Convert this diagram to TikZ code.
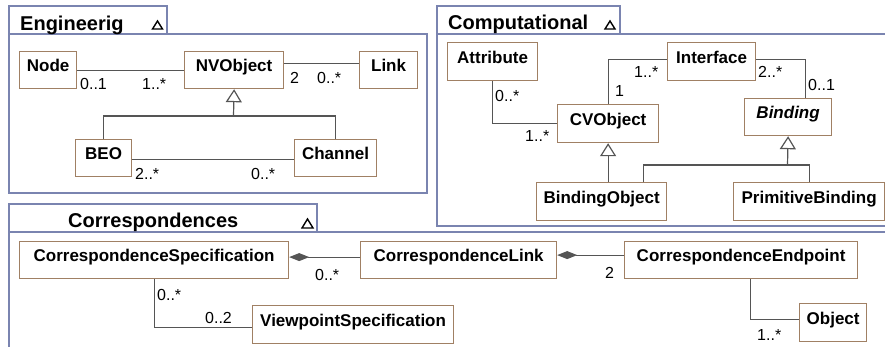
\documentclass[tikz,border=0pt]{standalone}
\usepackage{fontspec}
\setmainfont{Liberation Sans}
\usetikzlibrary{arrows.meta}
\definecolor{boxbrown}{RGB}{160,128,100}
\definecolor{framegray}{RGB}{122,132,176}
\definecolor{linegray}{RGB}{85,85,85}
\tikzset{
  box/.style={draw=boxbrown,line width=1.2pt,fill=white,anchor=north west,
              inner xsep=4pt,text height=12pt,text depth=8.6pt,
              font=\fontsize{17}{20}\selectfont\bfseries},
  boxi/.style={box,font=\fontsize{17}{20}\selectfont\bfseries\itshape},
  mult/.style={anchor=base west,inner sep=0pt,
               font=\fontsize{16}{19}\selectfont},
  tab/.style={anchor=base west,inner sep=0pt,
              font=\fontsize{20}{24}\selectfont\bfseries},
  frame/.style={draw=framegray,line width=1.3pt},
  assoc/.style={draw=linegray,line width=1.2pt},
  gen/.style={assoc,-{Triangle[length=13pt,width=16pt,fill=white]}},
  comp/.style={assoc,-{Diamond[length=20pt,width=8pt]}},
  fold/.style={draw=black,line width=1.4pt,line join=miter},
}

\begin{document}
\begin{tikzpicture}[x=1pt, y=-1pt]
  \useasboundingbox (0,0) rectangle (885,346);
  % package frames
  \draw[frame] (9,6) rectangle (167,34);
  \draw[frame] (9,34) rectangle (427,193);
  \draw[frame] (437,6) rectangle (620,34);
  \draw[frame] (890,34) -- (437,34) -- (437,226) -- (890,226);
  \draw[frame] (9,204) rectangle (317,232);
  \draw[frame] (890,232) -- (9,232) -- (9,350);
  \node[tab] (t-eng) at (20,30) {Engineerig};
  \node[tab] (t-comp) at (448,29) {Computational};
  \node[tab] (t-corr) at (68,227) {Correspondences};
  \draw[fold] (152.5,29) -- (162.5,29) -- (157.5,21) -- cycle;
  \draw[fold] (605,29) -- (615,29) -- (610,21) -- cycle;
  \draw[fold] (302,228) -- (313,228) -- (307.5,219) -- cycle;

  % engineering
  \node[box, minimum width=57pt, minimum height=37pt] (node) at (19,51) {Node};
  \node[box, minimum width=99pt, minimum height=37pt] (nvo) at (184,51) {NVObject};
  \node[box, minimum width=58pt, minimum height=37pt] (link) at (359,51) {Link};
  \node[box, minimum width=56pt, minimum height=37pt] (beo) at (75,139) {BEO};
  \node[box, minimum width=82pt, minimum height=37pt] (chan) at (294,139) {Channel};
  \draw[assoc] (node.east) -- (nvo.west);
  \draw[assoc] ([yshift=7pt]nvo.east) -- ([yshift=7pt]link.west);
  \draw[assoc] ([yshift=-1.5pt]beo.east) -- ([yshift=-1.5pt]chan.west);
  \coordinate (j1) at (233.5,116);
  \draw[assoc] (beo.north) |- (j1);
  \draw[assoc] (chan.north) |- (j1);
  \draw[gen] (j1) -- (nvo.south);
  \node[mult] (m-node) at (80,89) {0..1};
  \node[mult] (m-nvo) at (142,89) {1..*};
  \node[mult] (m-nvo2) at (290,83) {2};
  \node[mult] (m-link) at (317,83) {0..*};
  \node[mult] (m-beo) at (135,179) {2..*};
  \node[mult] (m-chan) at (251,179) {0..*};

  % computational
  \node[box, minimum width=90pt, minimum height=38pt] (attr) at (447,42) {Attribute};
  \node[box, minimum width=88pt, minimum height=38pt] (iface) at (667,42) {Interface};
  \node[box, minimum width=101pt, minimum height=38pt] (cvo) at (557,104) {CVObject};
  \node[boxi, minimum width=87pt, minimum height=37pt] (bind) at (744,98) {Binding};
  \node[box, minimum width=130pt, minimum height=38pt] (bobj) at (536,182) {BindingObject};
  \node[box, minimum width=151pt, minimum height=38pt] (prim) at (733,182) {PrimitiveBinding};
  \draw[assoc] (attr.south) |- (cvo.west);
  \draw[assoc] (cvo.north) |- ([yshift=2pt]iface.west);
  \draw[assoc] ([yshift=2pt]iface.east) -| ([xshift=17pt]bind.north);
  \draw[gen] (cvo.south |- bobj.north) -- (cvo.south);
  \coordinate (j2) at (787.5,165);
  \draw[assoc] ([xshift=42pt]bobj.north) |- (j2);
  \draw[assoc] (prim.north) |- (j2);
  \draw[gen] (j2) -- (bind.south);
  \node[mult] (m-attr) at (495,101) {0..*};
  \node[mult] (m-cvo) at (525,141) {1..*};
  \node[mult] (m-cvo2) at (615,96) {1};
  \node[mult] (m-iface) at (634,77) {1..*};
  \node[mult] (m-iface2) at (758,77) {2..*};
  \node[mult] (m-bind) at (808,90) {0..1};

  % correspondences
  \node[box, minimum width=269pt, minimum height=37pt] (cspec) at (19,241) {CorrespondenceSpecification};
  \node[box, minimum width=196pt, minimum height=37pt] (clink) at (360,241) {CorrespondenceLink};
  \node[box, minimum width=233pt, minimum height=37pt] (cep) at (624,241) {CorrespondenceEndpoint};
  \node[box, minimum width=201pt, minimum height=38pt] (vps) at (252,305) {ViewpointSpecification};
  \node[box, minimum width=67pt, minimum height=38pt] (obj) at (799,303) {Object};
  \draw[comp] ([yshift=3pt]clink.west) -- ([yshift=3pt]cspec.east);
  \draw[comp] ([yshift=5pt]cep.west) -- ([yshift=5pt]clink.east);
  \draw[assoc] (cspec.south) |- ([yshift=-3pt]vps.west);
  \draw[assoc] ([xshift=9.5pt]cep.south) |- ([yshift=3pt]obj.west);
  \node[mult] (m-clink) at (315,280) {0..*};
  \node[mult] (m-vps) at (157,300) {0..*};
  \node[mult] (m-vps2) at (205,323) {0..2};
  \node[mult] (m-cep) at (605,278) {2};
  \node[mult] (m-obj) at (757,340) {1..*};
\end{tikzpicture}
\end{document}
